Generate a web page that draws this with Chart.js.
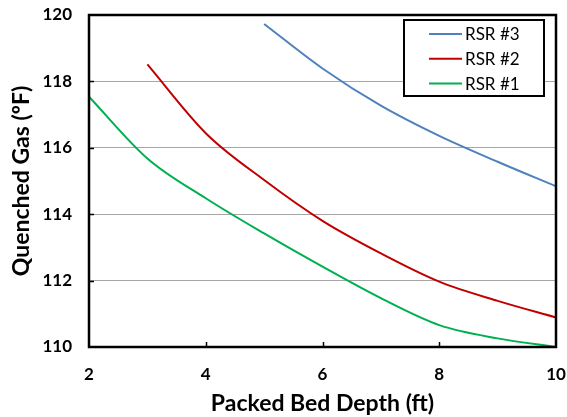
<!DOCTYPE html>
<html>
<head>
<meta charset="utf-8">
<script src="https://cdn.jsdelivr.net/npm/chart.js@4"></script>
<style>
  html, body { margin: 0; padding: 0; background: #fff; }
  #wrap { width: 567px; height: 417px; position: relative; }
</style>
</head>
<body>
<div id="wrap"><canvas id="chart"></canvas></div>
<script>
const depth = [2, 3, 4, 5, 6, 7, 8, 9, 10];
const rsr3 = [null, null, null, 119.73, 118.39, 117.27, 116.36, 115.58, 114.84];
const rsr2 = [null, 118.51, 116.44, 115.03, 113.8, 112.82, 111.97, 111.39, 110.89];
const rsr1 = [117.54, 115.68, 114.48, 113.42, 112.42, 111.47, 110.66, 110.26, 110.0];
const xTicks = [2, 4, 6, 8, 10];
const yTicks = [110, 112, 114, 116, 118, 120];

const FONT = "Lato, 'Open Sans', sans-serif";

function series(label, values, color) {
  return {
    label,
    data: depth.map((x, i) => ({ x, y: values[i] })).filter(p => p.y !== null),
    borderColor: color,
    backgroundColor: color,
    borderWidth: 2,
    pointRadius: 0,
    cubicInterpolationMode: "monotone"
  };
}

// frame, inward tick marks and a boxed legend
const framePlugin = {
  id: "frame",
  afterDatasetsDraw(chart) {
    const { ctx, chartArea: a, scales } = chart;
    ctx.save();
    ctx.strokeStyle = "#000";
    ctx.lineWidth = 1.5;
    xTicks.slice(1, -1).forEach(v => {
      const px = Math.round(scales.x.getPixelForValue(v)) + 0.5;
      ctx.beginPath(); ctx.moveTo(px, a.bottom); ctx.lineTo(px, a.bottom - 5); ctx.stroke();
    });
    yTicks.slice(1, -1).forEach(v => {
      const py = Math.round(scales.y.getPixelForValue(v)) + 0.5;
      ctx.beginPath(); ctx.moveTo(a.left, py); ctx.lineTo(a.left + 5, py); ctx.stroke();
    });
    ctx.lineWidth = 2.5;
    ctx.strokeRect(a.left, a.top, a.right - a.left, a.bottom - a.top);

    // legend
    const lx = 404, ly = 20, lw = 140, lh = 76;
    ctx.fillStyle = "#fff";
    ctx.fillRect(lx, ly, lw, lh);
    ctx.lineWidth = 2;
    ctx.strokeRect(lx, ly, lw, lh);
    ctx.font = "17px " + FONT;
    ctx.textBaseline = "middle";
    ctx.fillStyle = "#000";
    chart.data.datasets.forEach((ds, i) => {
      const y = ly + 14 + i * 24.7;
      ctx.strokeStyle = ds.borderColor;
      ctx.lineWidth = 2;
      ctx.beginPath(); ctx.moveTo(lx + 25, y); ctx.lineTo(lx + 58, y); ctx.stroke();
      ctx.fillText(ds.label, lx + 61, y + 1);
    });
    ctx.restore();
  }
};

new Chart(document.getElementById("chart"), {
  type: "line",
  data: {
    datasets: [
      series("RSR #3", rsr3, "#4F81BD"),
      series("RSR #2", rsr2, "#C00000"),
      series("RSR #1", rsr1, "#00B050")
    ]
  },
  options: {
    responsive: true,
    maintainAspectRatio: false,
    animation: false,
    layout: { padding: { top: 15, right: 11, left: 0, bottom: 0 } },
    plugins: { legend: { display: false }, tooltip: { enabled: false } },
    scales: {
      x: {
        type: "linear",
        min: 2, max: 10,
        afterBuildTicks: s => { s.ticks = xTicks.map(v => ({ value: v })); },
        afterFit: s => { s.height = 70; s.paddingLeft = 0; s.paddingRight = 0; },
        grid: { display: false, drawTicks: false },
        border: { display: false },
        ticks: { color: "#000", padding: 17, font: { family: FONT, size: 17, weight: "bold" } },
        title: {
          display: true, text: "Packed Bed Depth (ft)", color: "#000",
          padding: { top: 1, bottom: 0 },
          font: { family: FONT, size: 23, weight: "bold" }
        }
      },
      y: {
        min: 110, max: 120,
        afterBuildTicks: s => { s.ticks = yTicks.map(v => ({ value: v })); },
        afterFit: s => { s.width = 89; s.paddingTop = 0; s.paddingBottom = 0; },
        grid: { color: "#a6a6a6", lineWidth: 1, drawTicks: false },
        border: { display: false },
        ticks: { color: "#000", padding: 17, font: { family: FONT, size: 17, weight: "bold" } },
        title: {
          display: true, text: "Quenched Gas (ºF)", color: "#000",
          padding: { top: 8, bottom: 4 },
          font: { family: FONT, size: 23, weight: "bold" }
        }
      }
    }
  },
  plugins: [framePlugin]
});
</script>
</body>
</html>
